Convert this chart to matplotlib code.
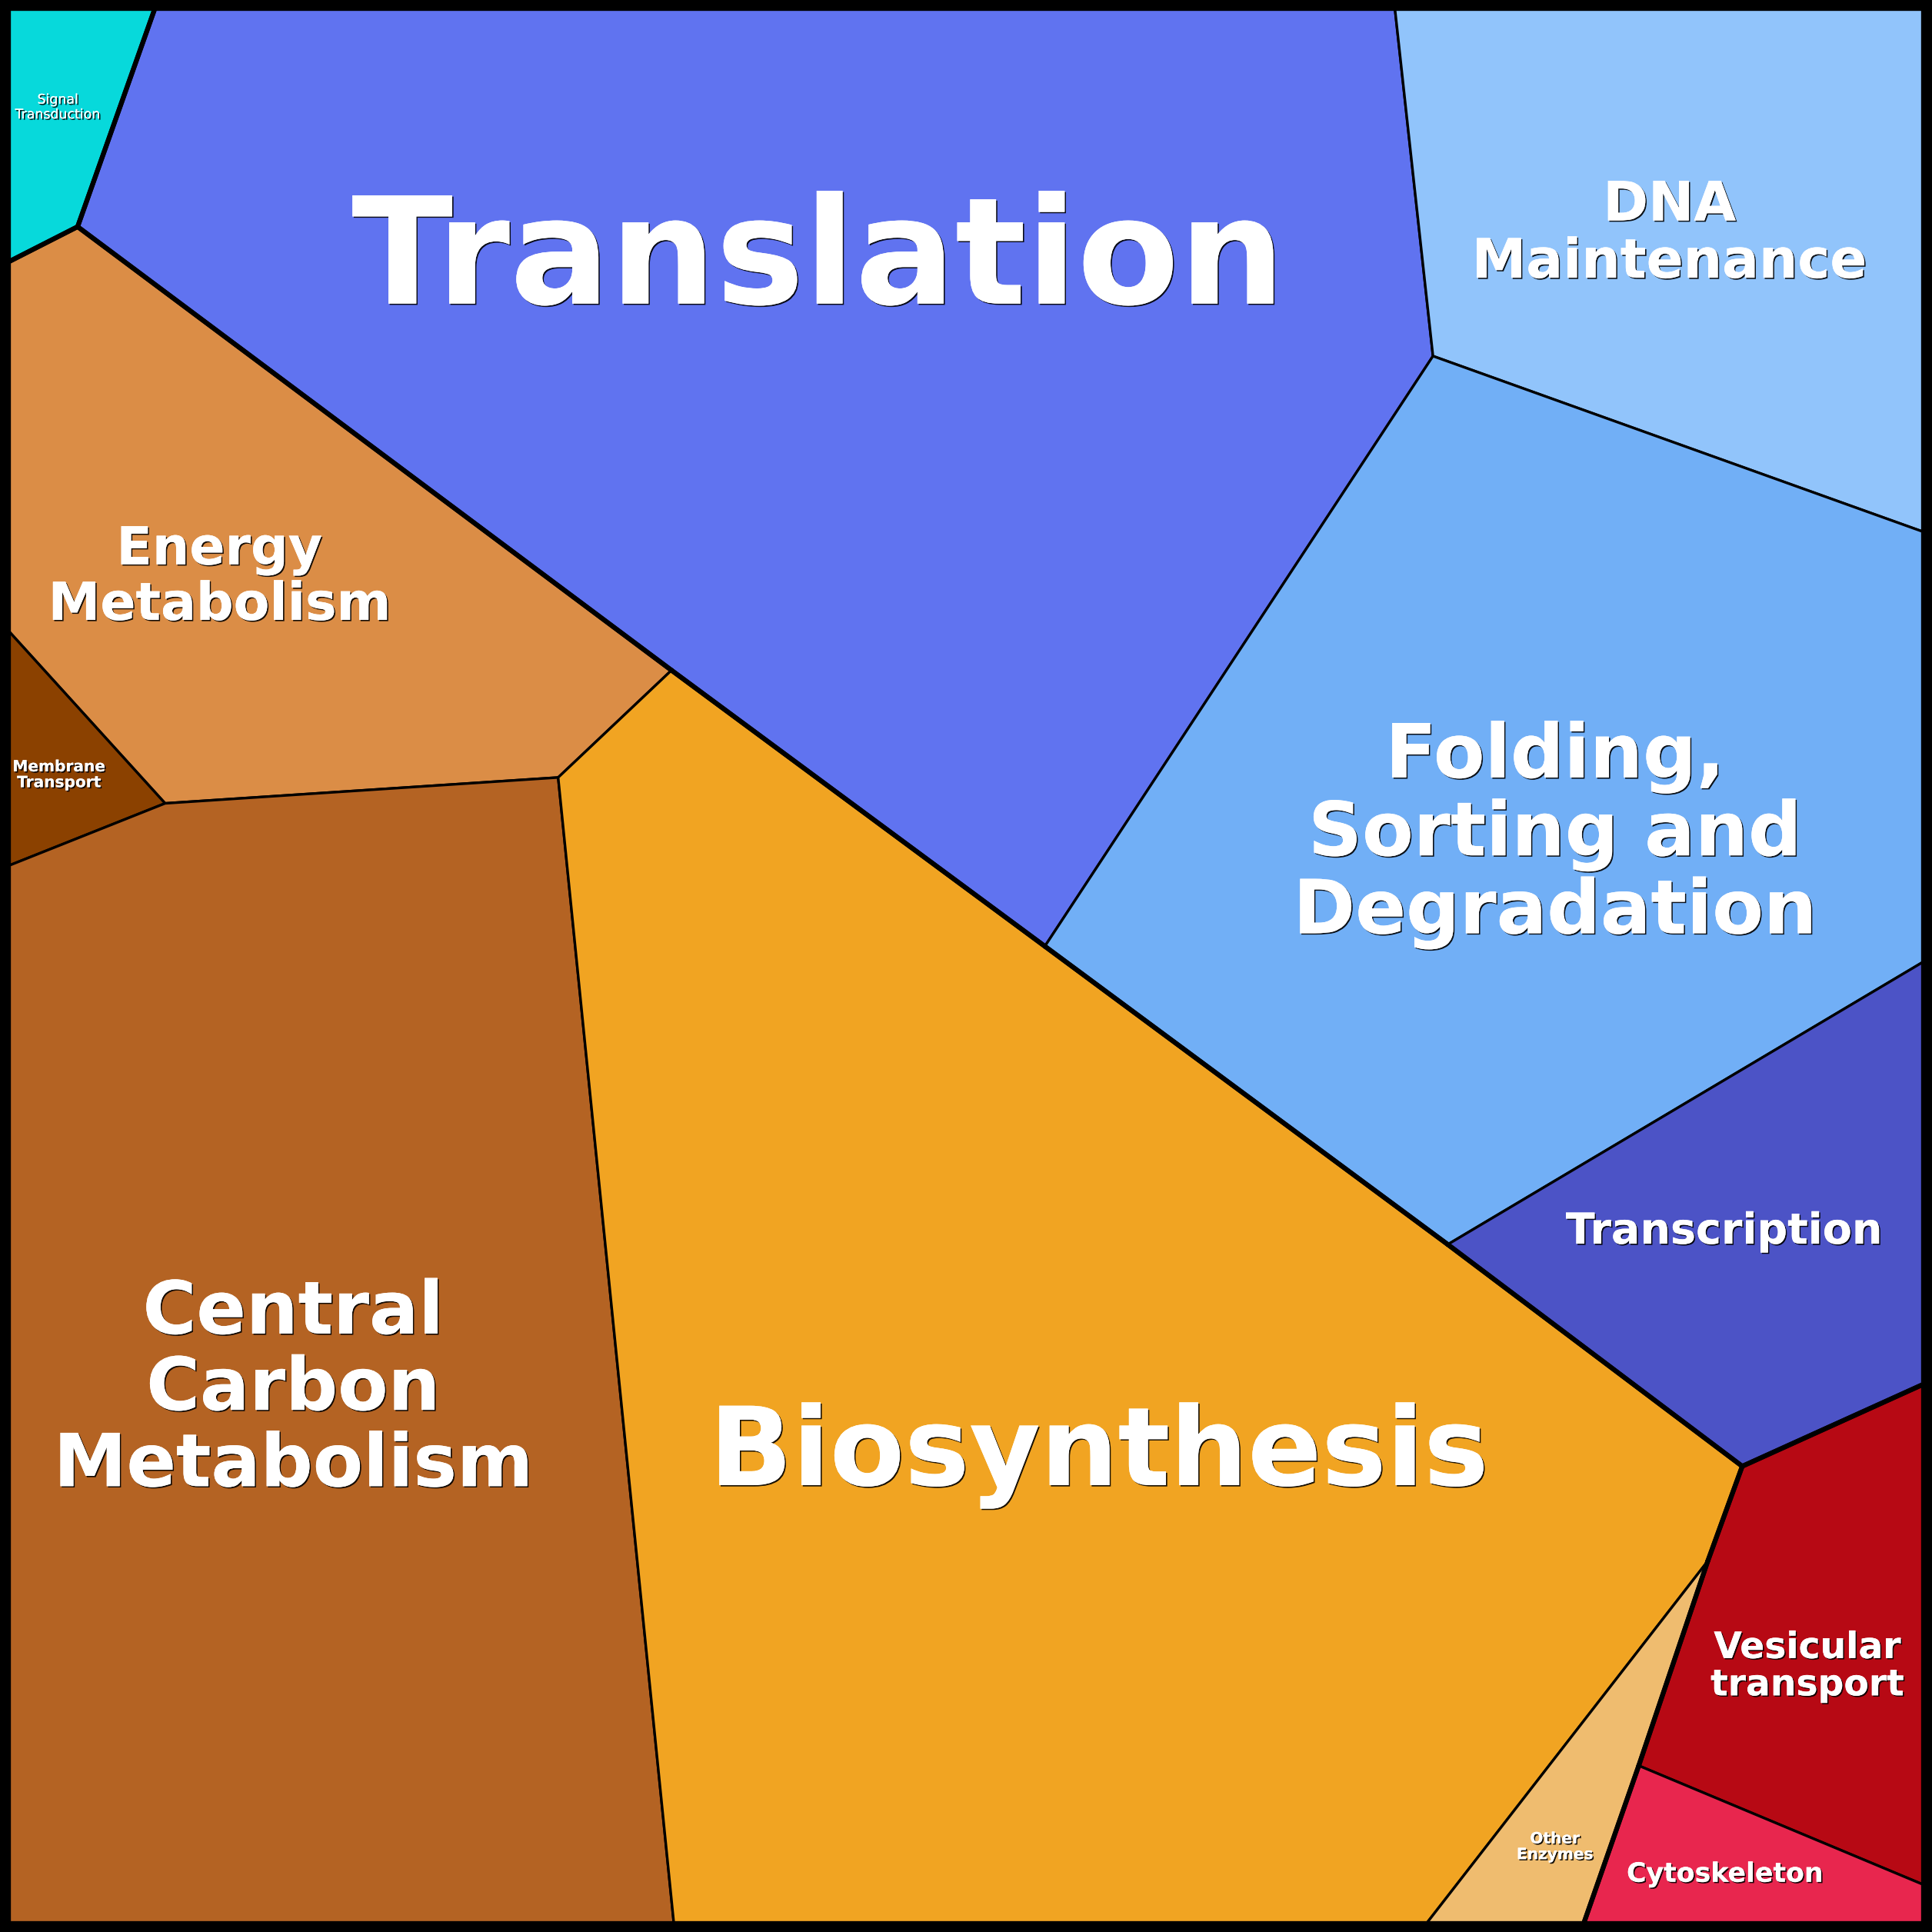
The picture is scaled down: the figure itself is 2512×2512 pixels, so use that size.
import matplotlib.pyplot as plt
import matplotlib.patheffects as pe
from matplotlib.patches import Polygon
from collections import Counter

# vertices of the voronoi cells (picture units, 0..1568, y downwards)
V = {
    'tl': (6, 6), 'tr': (1562, 6), 'bl': (6, 1562), 'br': (1562, 1562),
    'a': (126, 6), 'b': (63, 184), 'c': (6, 213), 'd': (1132, 6),
    'e': (1163, 289), 'f': (848, 768), 'g': (545, 544), 'h': (1562, 432),
    'i': (1562, 780), 'j': (1175, 1010), 'k': (1562, 1123), 'l': (1414, 1190),
    'm': (453, 631), 'n': (134, 652), 'o': (6, 511), 'p': (6, 703),
    'q': (547, 1562), 'r': (1386, 1267), 's': (1157, 1562), 't': (1330, 1433),
    'u': (1285, 1562), 'w': (1562, 1530),
}

names = ['Signal\nTransduction', 'Translation', 'DNA\nMaintenance',
         'Folding,\nSorting and\nDegradation', 'Transcription',
         'Energy\nMetabolism', 'Membrane\nTransport',
         'Central\nCarbon\nMetabolism', 'Biosynthesis', 'Other\nEnzymes',
         'Vesicular\ntransport', 'Cytoskeleton']
groups = ['sig', 'gen', 'gen', 'gen', 'gen',
          'met', 'met', 'met', 'met', 'met', 'cel', 'cel']
cells = [
    ['tl', 'a', 'b', 'c'],
    ['a', 'd', 'e', 'f', 'g', 'b'],
    ['d', 'tr', 'h', 'e'],
    ['e', 'h', 'i', 'j', 'f'],
    ['i', 'k', 'l', 'j'],
    ['c', 'b', 'g', 'm', 'n', 'o'],
    ['o', 'n', 'p'],
    ['p', 'n', 'm', 'q', 'bl'],
    ['m', 'g', 'f', 'j', 'l', 'r', 's', 'q'],
    ['r', 't', 'u', 's'],
    ['l', 'k', 'w', 't', 'r'],
    ['t', 'w', 'br', 'u'],
]
colors = ['#07D9DB', '#6073F0', '#91C4FB', '#71AFF6', '#4C53C6',
          '#DB8D46', '#8B4100', '#B46323', '#F1A422', '#EFBC6F',
          '#B70914', '#E8264E']

# label placement and size
label_xy = [(47, 87), (664, 213), (1355, 190), (1262, 678), (1399, 1000),
            (178, 469), (48, 629), (238, 1128), (892, 1181), (1262, 1499),
            (1467, 1353), (1400, 1521)]
label_size = [12.5, 139, 51, 70, 40, 49, 14.5, 68.5, 102, 14.5, 34, 25]
label_weight = ['normal'] + ['bold'] * 11

fig = plt.figure(figsize=(25.12, 25.12), dpi=100, facecolor='black')
ax = fig.add_axes([0, 0, 1, 1])
ax.set_xlim(0, 1568)
ax.set_ylim(1568, 0)
ax.axis('off')

for cell, col in zip(cells, colors):
    ax.add_patch(Polygon([V[p] for p in cell], closed=True, facecolor=col,
                         edgecolor='black', linewidth=2.4, joinstyle='round'))

# thick lines around the top level groups
for grp in set(groups):
    cnt = Counter()
    for cell, g in zip(cells, groups):
        if g != grp:
            continue
        for p1, p2 in zip(cell, cell[1:] + cell[:1]):
            cnt[tuple(sorted((p1, p2)))] += 1
    for (p1, p2), c in cnt.items():
        if c == 1:
            ax.plot([V[p1][0], V[p2][0]], [V[p1][1], V[p2][1]], color='black',
                    lw=4.4, solid_capstyle='round')

ax.add_patch(Polygon([V['tl'], V['tr'], V['br'], V['bl']], closed=True,
                     fill=False, edgecolor='black', linewidth=6))

shadow = [pe.withSimplePatchShadow(offset=(1.2, -1.2), shadow_rgbFace='black',
                                   alpha=0.9), pe.Normal()]
for name, (x, y), fs, fw in zip(names, label_xy, label_size, label_weight):
    ax.text(x, y, name, ha='center', va='center', fontsize=fs, fontweight=fw,
            color='white', family='DejaVu Sans', linespacing=1.1,
            multialignment='center', path_effects=shadow)

fig.savefig('out.png', dpi=100, facecolor='black')
